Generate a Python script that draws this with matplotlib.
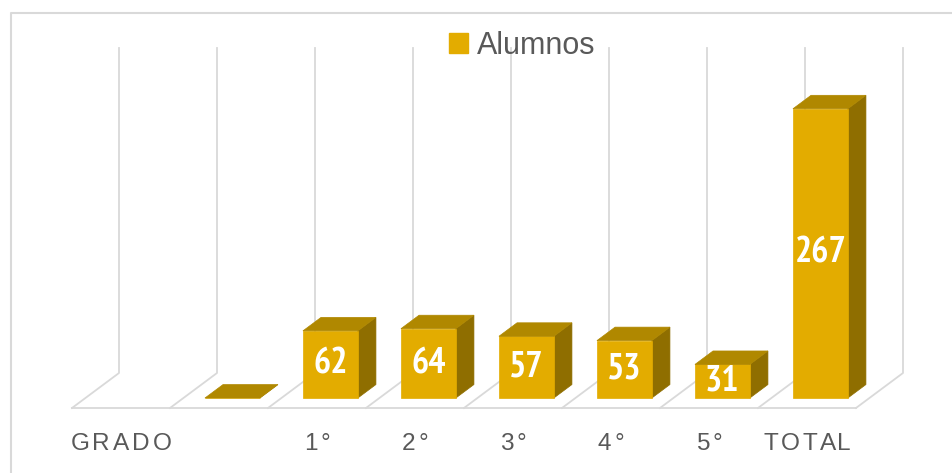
import numpy as np
import matplotlib
matplotlib.use("Agg")
import matplotlib.pyplot as plt
from matplotlib.patches import Polygon, Patch
from matplotlib.lines import Line2D
from matplotlib.font_manager import FontProperties, fontManager
import matplotlib.transforms as mtransforms

# ---- data ----
categories = ["GRADO", "", "1°", "2°", "3°", "4°", "5°", "TOTAL"]
values = [np.nan, 0, 62, 64, 57, 53, 31, 267]
series_name = "Alumnos"
y_max = 300

# ---- style ----
FRONT = "#E3AC00"
TOP = "#B08800"
SIDE = "#8F6E00"
GRID = "#D9D9D9"
TEXT = "#595959"

# pick a narrow bold font for the value labels if one is installed
label_prop = None
for f in fontManager.ttflist:
    nm = (f.name + " " + f.fname).lower()
    if ("narrow" in nm) and f.weight in ("bold", 700):
        label_prop = FontProperties(fname=f.fname, size=26)
        break
if label_prop is None:
    for f in fontManager.ttflist:
        fn = f.fname.lower()
        if "condensed" in fn and "bold" in fn and "oblique" not in fn and "italic" not in fn \
                and "semi" not in fn and "extra" not in fn:
            label_prop = FontProperties(fname=f.fname, size=26)
            break
if label_prop is None:
    label_prop = FontProperties(family=["Liberation Sans", "DejaVu Sans"], weight="bold", size=21)

W, H = 953, 473
fig = plt.figure(figsize=(W / 100, H / 100), dpi=100)
fig.patch.set_facecolor("white")

# back wall plane of the pseudo-3D chart
ax = fig.add_axes([119 / W, 100 / H, 784 / W, 325 / H])
ax.set_xlim(0, len(categories))
ax.set_ylim(0, y_max)
ax.axis("off")

# depth offset (d = 0 back wall, d = 1 front edge), expressed in data units
DX = 47 / 98.0
DY = 35 / (325 / y_max)


def P(x, y, d):
    return (x - DX * d, y - DY * d)


n = len(categories)
for k in range(n + 1):
    xs, ys = zip(P(k, y_max, 0), P(k, 0, 0), P(k, 0, 1))
    ax.add_line(Line2D(xs, ys, color=GRID, lw=1.3, zorder=1, clip_on=False))
xs, ys = zip(P(0, 0, 1), P(n, 0, 1))
ax.add_line(Line2D(xs, ys, color=GRID, lw=1.3, zorder=1, clip_on=False))

# bars
dF, dB = 0.715, 0.33
bw0, bw1 = 0.22, 0.78
for i, v in enumerate(values):
    if np.isnan(v):
        continue
    x0, x1 = i + bw0, i + bw1
    front = [P(x0, 0, dF), P(x1, 0, dF), P(x1, v, dF), P(x0, v, dF)]
    top = [P(x0, v, dF), P(x1, v, dF), P(x1, v, dB), P(x0, v, dB)]
    side = [P(x1, 0, dF), P(x1, 0, dB), P(x1, v, dB), P(x1, v, dF)]
    for pts, c in ((side, SIDE), (front, FRONT), (top, TOP)):
        ax.add_patch(Polygon(pts, closed=True, facecolor=c, edgecolor=c,
                             lw=0.5, zorder=3, clip_on=False))
    if v > 0:
        cx, cy = P(i + 0.5, v / 2, dF)
        ax.text(cx, cy, f"{v:g}", ha="center", va="center", color="white",
                fontproperties=label_prop, zorder=5, clip_on=False)

# category labels with letter spacing
renderer = fig.canvas.get_renderer()
prop = FontProperties(family=["Liberation Sans", "DejaVu Sans"], size=17.6)
SP = 3.0


def text_w(s):
    if not s:
        return 0.0
    w, h, d = renderer.get_text_width_height_descent(s, prop, ismath=False)
    return w


for i, lab in enumerate(categories):
    if not lab:
        continue
    total = text_w(lab) + SP * (len(lab) - 1)
    bx, by = P(i + 0.5, 0, 1)
    for k, ch in enumerate(lab):
        off = -total / 2 + text_w(lab[:k]) + SP * k
        tr = mtransforms.offset_copy(ax.transData, fig=fig, x=off, y=-36, units="dots")
        ax.text(bx, by, ch, transform=tr, ha="left", va="center",
                fontproperties=prop, color=TEXT, clip_on=False)

# legend
leg = fig.legend(handles=[Patch(facecolor=FRONT, edgecolor=FRONT)], labels=[series_name],
                 loc="center", bbox_to_anchor=(0.548, 0.903), frameon=False,
                 prop=FontProperties(family=["Liberation Sans", "DejaVu Sans"], size=22),
                 handlelength=0.62, handleheight=0.62, handletextpad=0.3,
                 labelcolor=TEXT)

# outer chart border (partially cropped)
fig.add_artist(Line2D([11 / W, 11 / W, 1.0], [0.0, 1 - 13 / H, 1 - 13 / H],
                      transform=fig.transFigure, color=GRID, lw=1.5))

fig.savefig("out.png", dpi=100, facecolor="white")
